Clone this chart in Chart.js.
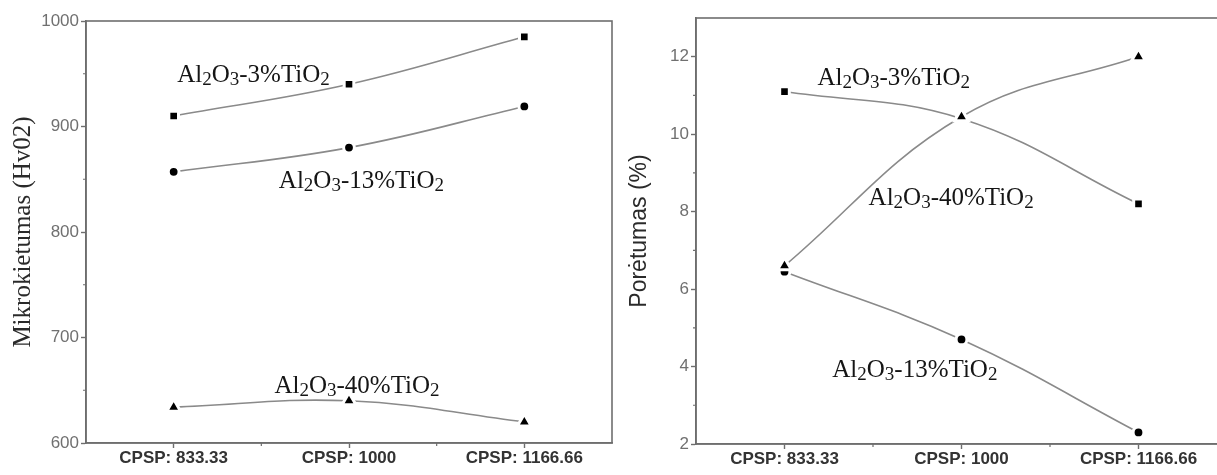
<!DOCTYPE html>
<html>
<head>
<meta charset="utf-8">
<script src="https://cdn.jsdelivr.net/npm/chart.js@4"></script>
<style>
  html, body { margin: 0; padding: 0; background: #fff; overflow: hidden; }
  #wrap { position: relative; width: 1217px; height: 475px; overflow: hidden; }
  #hardness { position: absolute; left: 0; top: 0; }
  #porosity { position: absolute; left: 618px; top: 0; }
</style>
</head>
<body>
<div id="wrap">
  <canvas id="hardness" width="640" height="475"></canvas>
  <canvas id="porosity" width="640" height="475"></canvas>
</div>
<script>
// spraying distance settings (x axis)
const categories = ['CPSP: 833.33', 'CPSP: 1000', 'CPSP: 1166.66'];

// microhardness, Hv02
const hardness3 = [910, 940, 985];
const hardness13 = [857, 880, 919];
const hardness40 = [634, 640, 620];

// porosity, %
const porosity3 = [11.1, 10.4, 8.2];
const porosity13 = [6.45, 4.7, 2.3];
const porosity40 = [6.6, 10.45, 12.0];

// coating names, "_" marks a subscript digit
const name3 = 'Al_2O_3-3%TiO_2';
const name13 = 'Al_2O_3-13%TiO_2';
const name40 = 'Al_2O_3-40%TiO_2';

const axisGrey = '#6e6e6e';
const lineGrey = '#8a8a8a';

// split "Al_2O_3" into normal / subscript runs
function parseName(str) {
    const parts = [];
    let buf = '';
    for (let i = 0; i < str.length; i++) {
        if (str[i] === '_') {
            if (buf) parts.push([buf, false]);
            buf = '';
            parts.push([str[i + 1], true]);
            i++;
        } else {
            buf += str[i];
        }
    }
    if (buf) parts.push([buf, false]);
    return parts;
}

// frame around the plot + small minor ticks on both axes
const framePlugin = {
    id: 'frame',
    afterDraw(chart) {
        const {ctx, chartArea: a, scales} = chart;
        ctx.save();
        ctx.strokeStyle = axisGrey;
        ctx.lineWidth = 1.6;
        ctx.strokeRect(a.left, a.top, a.right - a.left, a.bottom - a.top);

        ctx.lineWidth = 1.2;
        ctx.beginPath();
        const x = scales.x;
        for (let i = 0; i < categories.length - 1; i++) {
            const px = (x.getPixelForValue(i) + x.getPixelForValue(i + 1)) / 2;
            ctx.moveTo(px, a.bottom);
            ctx.lineTo(px, a.bottom + 3);
        }
        const y = scales.y;
        const t = y.ticks;
        for (let i = 0; i < t.length - 1; i++) {
            const py = y.getPixelForValue((t[i].value + t[i + 1].value) / 2);
            ctx.moveTo(a.left, py);
            ctx.lineTo(a.left - 3, py);
        }
        ctx.stroke();
        ctx.restore();
    }
};

// coating name labels placed in data coordinates
const namePlugin = {
    id: 'names',
    afterDatasetsDraw(chart, args, opts) {
        const {ctx, scales} = chart;
        ctx.save();
        ctx.fillStyle = '#151515';
        ctx.textBaseline = 'alphabetic';
        for (const lab of opts.items || []) {
            let px = scales.x.getPixelForValue(lab.at[0]);
            const py = scales.y.getPixelForValue(lab.at[1]);
            for (const [txt, sub] of parseName(lab.text)) {
                ctx.font = sub ? '19px "Liberation Serif"' : '25px "Liberation Serif"';
                ctx.fillText(txt, px, sub ? py + 3 : py);
                px += ctx.measureText(txt).width;
            }
        }
        ctx.restore();
    }
};

function series(data, style, radius, order) {
    return {
        data: data,
        order: order,
        borderColor: lineGrey,
        borderWidth: 1.6,
        tension: 0.4,
        fill: false,
        pointStyle: style,
        pointRadius: radius,
        pointBackgroundColor: '#000',
        pointBorderColor: '#fff',
        pointBorderWidth: 3
    };
}

function makeChart(id, opts) {
    return new Chart(document.getElementById(id), {
        type: 'line',
        data: {
            labels: categories,
            datasets: [
                series(opts.s3, 'rect', 6.8, 1),
                series(opts.s13, 'circle', 5.4, 2),
                // triangles on top
                series(opts.s40, 'triangle', 8, 0)
            ]
        },
        options: {
            responsive: false,
            animation: false,
            layout: {padding: opts.padding},
            plugins: {
                legend: {display: false},
                tooltip: {enabled: false},
                names: {items: opts.names}
            },
            scales: {
                x: {
                    offset: true,
                    grid: {drawOnChartArea: false, tickLength: 5, tickColor: axisGrey, tickWidth: 1.4},
                    border: {color: axisGrey, width: 1.6},
                    ticks: {
                        color: '#333',
                        padding: 0,
                        maxRotation: 0,
                        font: {family: 'Liberation Sans', size: 17, weight: 'bold'}
                    },
                    afterFit: s => { s.height = opts.xHeight; }
                },
                y: {
                    min: opts.min,
                    max: opts.max,
                    grid: {drawOnChartArea: false, tickLength: 5, tickColor: axisGrey, tickWidth: 1.4},
                    border: {color: axisGrey, width: 1.6},
                    ticks: {
                        stepSize: opts.step,
                        includeBounds: false,
                        color: '#707070',
                        padding: 2,
                        font: {family: 'Liberation Sans', size: 17},
                        callback: v => String(v)
                    },
                    title: {
                        display: true,
                        text: opts.title,
                        color: '#2a2a2a',
                        padding: {top: opts.titlePad, bottom: 0},
                        font: {family: opts.titleFont, size: opts.titleSize}
                    },
                    afterFit: s => { s.width = opts.yWidth; }
                }
            }
        },
        plugins: [framePlugin, namePlugin]
    });
}

makeChart('hardness', {
    s3: hardness3, s13: hardness13, s40: hardness40,
    min: 600, max: 1000, step: 100,
    padding: {top: 21, right: 28, left: 0, bottom: 0},
    xHeight: 32, yWidth: 86,
    title: 'Mikrokietumas (Hv02)', titleFont: 'Liberation Serif', titleSize: 25, titlePad: 8,
    names: [
        {text: name3, at: [0.02, 942]},
        {text: name13, at: [0.6, 842]},
        {text: name40, at: [0.575, 647]}
    ]
});

makeChart('porosity', {
    s3: porosity3, s13: porosity13, s40: porosity40,
    min: 2, max: 13, step: 2,
    padding: {top: 18, right: 31, left: 0, bottom: 0},
    xHeight: 31, yWidth: 78,
    title: 'Porėtumas (%)', titleFont: 'Liberation Sans', titleSize: 23, titlePad: 8,
    names: [
        {text: name3, at: [0.186, 11.28]},
        {text: name40, at: [0.475, 8.18]},
        {text: name13, at: [0.27, 3.73]}
    ]
});
</script>
</body>
</html>
